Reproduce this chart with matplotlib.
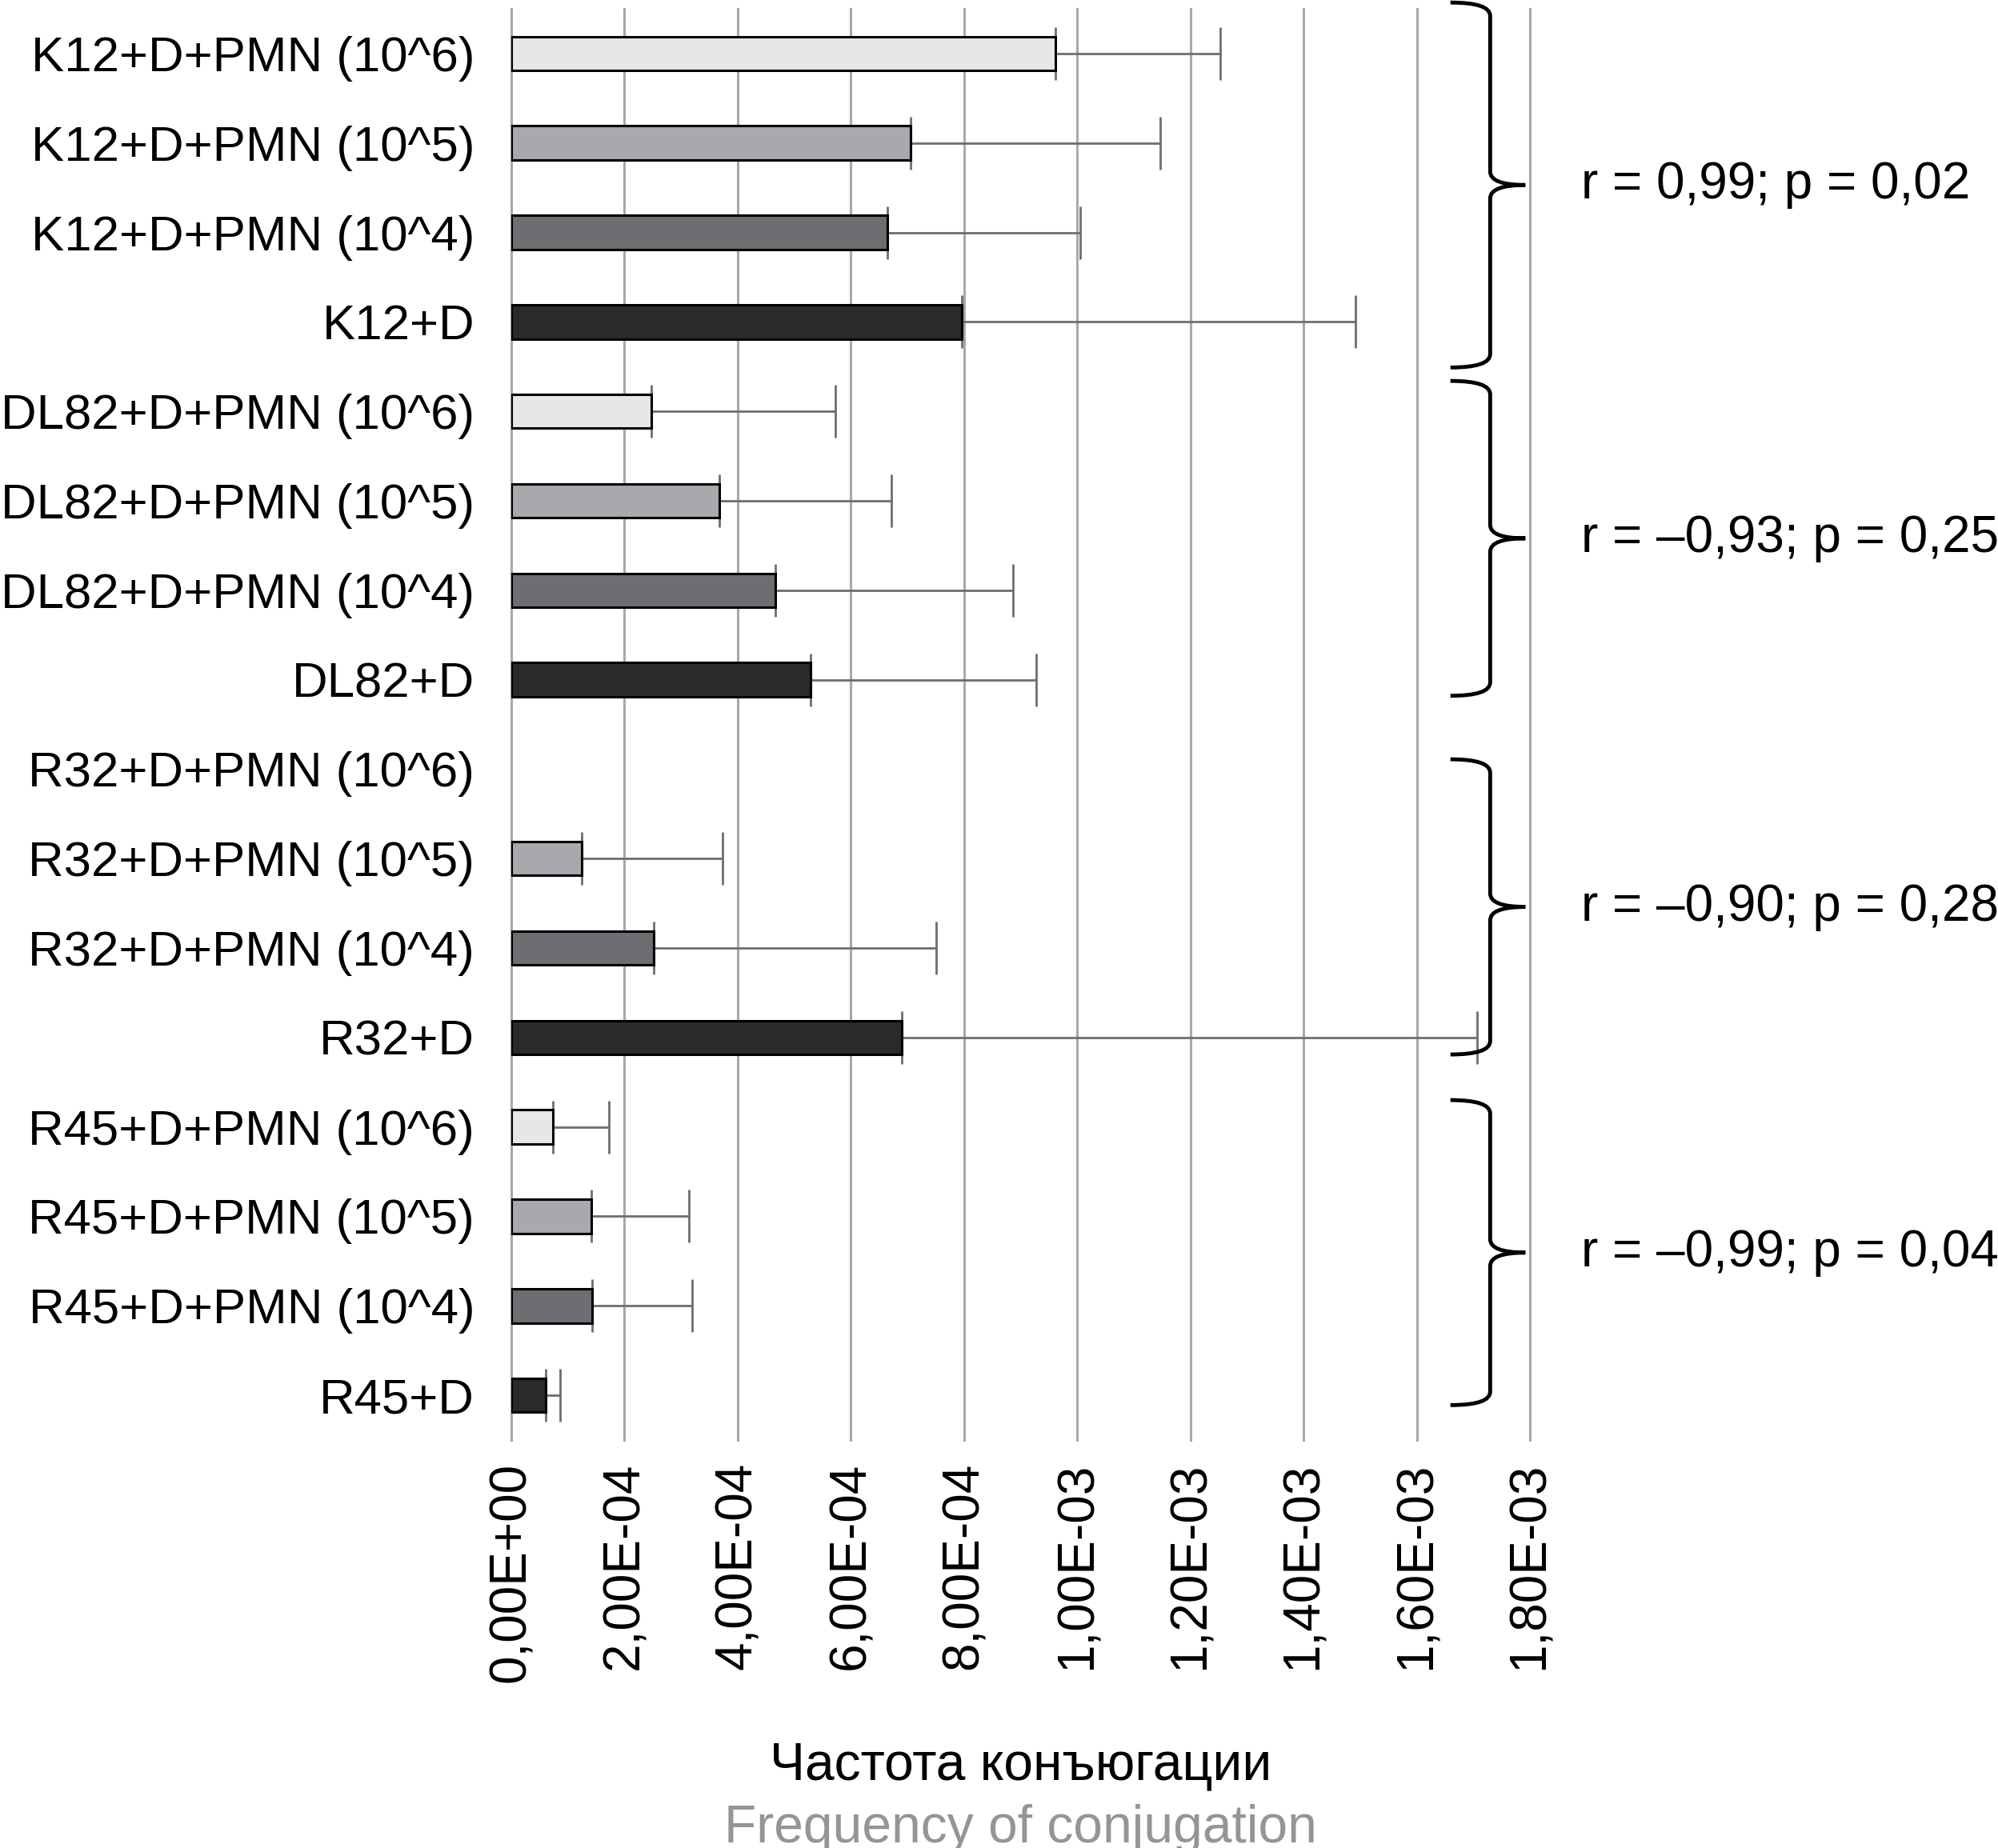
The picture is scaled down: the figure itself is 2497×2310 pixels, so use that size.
import numpy as np
import matplotlib.pyplot as plt
from matplotlib.path import Path
from matplotlib.patches import PathPatch
import matplotlib.transforms as mtransforms
from matplotlib.ticker import FuncFormatter, MultipleLocator

plt.rcParams['font.family'] = ['Liberation Sans', 'DejaVu Sans']

# ===== data
labels = ['K12+D+PMN (10^6)', 'K12+D+PMN (10^5)', 'K12+D+PMN (10^4)', 'K12+D',
          'DL82+D+PMN (10^6)', 'DL82+D+PMN (10^5)', 'DL82+D+PMN (10^4)', 'DL82+D',
          'R32+D+PMN (10^6)', 'R32+D+PMN (10^5)', 'R32+D+PMN (10^4)', 'R32+D',
          'R45+D+PMN (10^6)', 'R45+D+PMN (10^5)', 'R45+D+PMN (10^4)', 'R45+D']
values = [9.61e-4, 7.05e-4, 6.65e-4, 7.96e-4,
          2.47e-4, 3.67e-4, 4.66e-4, 5.29e-4,
          0.0, 1.24e-4, 2.51e-4, 6.90e-4,
          0.74e-4, 1.41e-4, 1.43e-4, 0.61e-4]
errors = [2.92e-4, 4.42e-4, 3.41e-4, 6.96e-4,
          3.25e-4, 3.05e-4, 4.21e-4, 3.99e-4,
          0.0, 2.49e-4, 5.00e-4, 10.16e-4,
          0.99e-4, 1.73e-4, 1.77e-4, 0.25e-4]
stats = ['r = 0,99; p = 0,02', 'r = \u20130,93; p = 0,25',
         'r = \u20130,90; p = 0,28', 'r = \u20130,99; p = 0,04']
# brace extents in row units (top, bottom)
brace_spans = [(-0.57, 3.51), (3.66, 7.18), (7.89, 11.19), (11.70, 15.11)]
level_colors = ['#E6E7E8', '#A7A9AC', '#6D6E71', '#2A2A2A']

FS = 46

fig = plt.figure(figsize=(24.97, 23.10), dpi=100)
ax = fig.add_axes([639 / 2497, 510 / 2310, 1273 / 2497, (1800 - 11) / 2310])

y = np.arange(len(labels))
vals = np.array(values, dtype=float)
err = np.array(errors, dtype=float)
colors = np.array([level_colors[i % 4] for i in range(len(labels))])

has_bar = vals > 0
ax.barh(y[has_bar], vals[has_bar], height=0.38, color=colors[has_bar],
        edgecolor='black', linewidth=2.2, zorder=3)

mask = err > 0
ax.errorbar(vals[mask], y[mask], xerr=[np.zeros(mask.sum()), err[mask]], fmt='none',
            ecolor='#6D6E71', elinewidth=2.0, capsize=24, capthick=2.0, zorder=2.5)

ax.set_ylim(len(labels) - 0.5, -0.5)
ax.set_xlim(0, 1.8e-3)
ax.xaxis.set_major_locator(MultipleLocator(2e-4))
ax.xaxis.set_major_formatter(FuncFormatter(lambda v, p: f"{v:.2E}".replace('.', ',')))
ax.set_yticks(y)
ax.set_yticklabels(labels)
ax.tick_params(axis='y', length=0, pad=33, labelsize=44.5)
ax.tick_params(axis='x', length=0, pad=20, labelsize=FS, labelrotation=90)
for s in ax.spines.values():
    s.set_visible(False)
ax.grid(axis='x', color='#A7A9AC', linewidth=2.2)
ax.set_axisbelow(True)
for gl in ax.get_xgridlines():
    gl.set_clip_on(False)

# ===== braces and correlation text
trans = mtransforms.blended_transform_factory(ax.transAxes, ax.transData)
xe, xl, xt, r = 0.922, 0.961, 0.9955, 0.15
for (t, b), txt in zip(brace_spans, stats):
    m = (t + b) / 2
    verts = [(xe, t), (xl, t), (xl, t + r), (xl, m - r), (xl, m), (xt, m),
             (xl, m), (xl, m + r), (xl, b - r), (xl, b), (xe, b)]
    codes = [Path.MOVETO, Path.CURVE3, Path.CURVE3, Path.LINETO, Path.CURVE3, Path.CURVE3,
             Path.CURVE3, Path.CURVE3, Path.LINETO, Path.CURVE3, Path.CURVE3]
    ax.add_patch(PathPatch(Path(verts, codes), transform=trans, fill=False,
                           edgecolor='black', linewidth=3.5, clip_on=False, zorder=5))
    ax.text(1.050, m, txt, transform=trans, fontsize=FS, va='center', ha='left', clip_on=False)

cx = (639 + 1273 / 2) / 2497
fig.text(cx, (2310 - 2224) / 2310, 'Частота конъюгации', fontsize=47.5, ha='center', va='baseline')
fig.text(cx, (2310 - 2303) / 2310, 'Frequency of conjugation', fontsize=47.5, ha='center',
         va='baseline', color='#939598')

fig.savefig('out.png', dpi=100)
